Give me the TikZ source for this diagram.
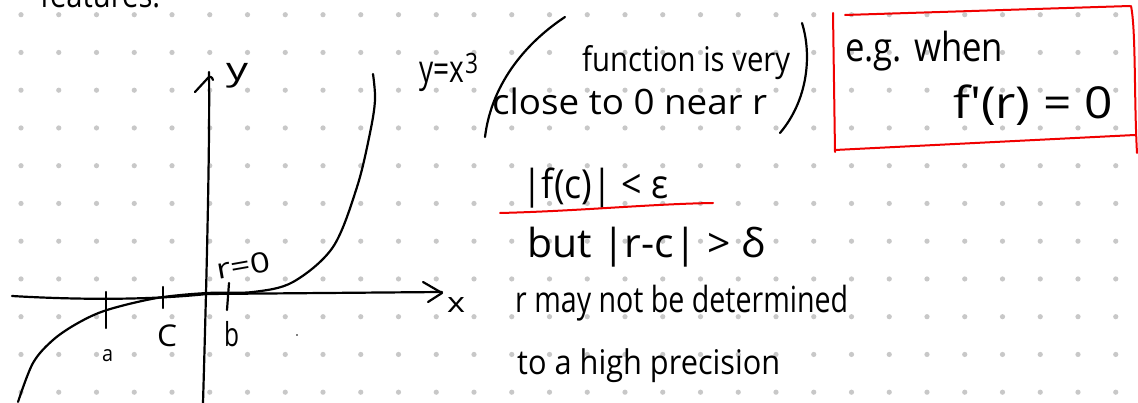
\documentclass[tikz,border=0pt]{standalone}
\usepackage{fontspec}
\setmainfont{Open Sans}
\usepackage{graphicx}
\newcommand{\hw}[3]{\resizebox{#1pt}{\height}{\fontsize{#2}{#2}\selectfont #3}}
\definecolor{dotgray}{RGB}{200,200,200}
\definecolor{pen}{RGB}{0,0,0}
\definecolor{redpen}{RGB}{240,0,0}
\tikzset{
  ink/.style={draw=pen, line width=2.2pt, line cap=round, line join=round},
  redink/.style={draw=redpen, line width=2pt, line cap=round, line join=round},
  hwt/.style={inner sep=0pt, anchor=base west, text=pen},
  griddot/.style={fill=dotgray}
}
\begin{document}
\begin{tikzpicture}[x=1pt,y=-1pt]
\useasboundingbox (0,0) rectangle (1138,403);
\clip (0,0) rectangle (1138,403);
\fill[white] (0,0) rectangle (1138,403);
% dotted grid
\foreach \i in {0,...,29}{
  \foreach \j in {0,...,10}{
    \fill[griddot] ({21+37.75*\i},{14.7+37.75*\j}) circle (2.6);
  }
}
% clipped heading at the top
\node[hwt] (head) at (40,8) {\hw{120}{34}{features.}};
% axes
\draw[ink] (12,296) .. controls (80,300) and (150,300) .. (207,294) -- (442,292);
\coordinate (xtip) at (442,293);
\draw[ink] (423,282) -- (xtip) -- (428,302);
\node[hwt] (xl) at (447,313) {\hw{18}{28}{x}};
\draw[ink] (203,403) .. controls (206,300) and (210,150) .. (209,72);
\draw[ink] (195,92) -- (207,79) .. controls (209,76) and (212,76) .. (213,80);
\node[hwt] (yl) at (226,81) {\hw{22}{32}{y}};
% cubic curve
\draw[ink] plot[smooth, tension=0.55] coordinates {(18,402) (33,363) (53,340) (78,323) (107,310) (157,298) (207,293) (253,292) (293,282) (333,247) (357,187) (370,133) (375,100) (373,74)};
% ticks
\draw[ink] (106,292) -- (106,328);
\draw[ink] (163,287) -- (163,308);
\draw[ink] (229,283) -- (227,310);
\node[hwt] (la) at (102,362) {\hw{11}{22}{a}};
\node[hwt] (lc) at (157,346) {\hw{20}{30}{C}};
\node[hwt] (lb) at (224,346) {\hw{15}{33}{b}};
\node[hwt, rotate=10] (lr) at (218,280) {\hw{54}{28}{r=0}};
\fill[pen] (297,335) circle (0.9);
% formula and comment
\node[hwt] (yx) at (419,83) {\hw{45}{38}{y=x}};
\node[hwt] (y3) at (465,74) {\hw{13}{28}{3}};
\draw[ink] (565,17) .. controls (530,40) and (492,80) .. (485,137);
\draw[ink] (802,23) .. controls (812,55) and (808,100) .. (780,133);
\node[hwt] (c1) at (582,72) {\hw{208}{34}{function is very}};
\node[hwt] (c2) at (492,115) {\hw{275}{35}{close to 0 near r}};
% red box
\draw[redink] (845,15) -- (1130,6);
\draw[redink] (833,13) -- (835,152);
\draw[redink] (835,150) -- (1135,135);
\draw[redink] (1131,6) .. controls (1136,30) and (1134,100) .. (1137,153);
\node[hwt] (eg) at (845,62) {\hw{158}{40}{e.g. when}};
\node[hwt] (fp) at (953,119) {\hw{160}{44}{f\textquotesingle(r) = 0}};
% lower notes
\node[hwt] (fc) at (522,199) {\hw{146}{40}{|f(c)| < ε}};
\draw[redink] (500,213) .. controls (580,211) and (650,204) .. (713,203);
\node[hwt] (bt) at (527,258) {\hw{238}{40}{but |r-c| > δ}};
\node[hwt] (rm) at (515,313) {\hw{333}{36}{r may not be determined}};
\node[hwt] (hp) at (517,374) {\hw{263}{34}{to a high precision}};
\end{tikzpicture}
\end{document}
